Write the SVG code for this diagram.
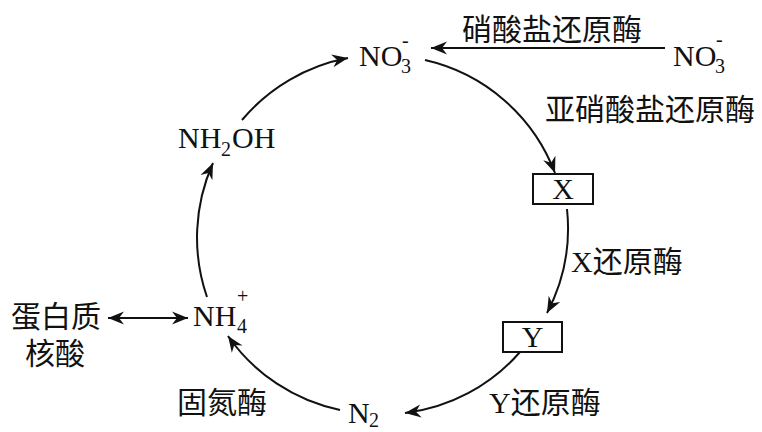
<svg xmlns="http://www.w3.org/2000/svg" width="762" height="432" viewBox="0 0 762 432">
<style>
text{font-family:"Liberation Serif","Noto Sans CJK SC",serif;font-size:30px;fill:#111}
.s{font-size:20px}
.c{stroke:#111;stroke-width:2;fill:none}
.b{fill:#fff;stroke:#111;stroke-width:2}
</style>
<defs>
<marker id="ah" viewBox="-17 -8 19 16" refX="0" refY="0" markerWidth="19" markerHeight="16" markerUnits="userSpaceOnUse" orient="auto-start-reverse">
<path d="M0,0 L-16,-6.5 L-11,0 L-16,6.5 Z" fill="#111"/>
</marker>
</defs>
<rect width="762" height="432" fill="#fff"/>
<g id="connectors">
<path class="c" d="M665,48 L431,48" marker-end="url(#ah)"/>
<path class="c" d="M425,60 A182,182 0 0 1 555,173" marker-end="url(#ah)"/>
<path class="c" d="M567,209 A182,182 0 0 1 547,313" marker-end="url(#ah)"/>
<path class="c" d="M520,352 A182,182 0 0 1 405,413" marker-end="url(#ah)"/>
<path class="c" d="M340,410 A182,182 0 0 1 228,336" marker-end="url(#ah)"/>
<path class="c" d="M207,297 A182,182 0 0 1 213,163" marker-end="url(#ah)"/>
<path class="c" d="M242,120 A182,182 0 0 1 348,58" marker-end="url(#ah)"/>
<path class="c" d="M108,318 L188,318" marker-start="url(#ah)" marker-end="url(#ah)"/>
</g>
<g id="no3-top">
<text x="359" y="66">NO</text><text class="s" x="401" y="73">3</text><text class="s" x="402" y="47">-</text>
</g>
<g id="no3-right">
<text x="673" y="66">NO</text><text class="s" x="715" y="73">3</text><text class="s" x="716" y="46">-</text>
</g>
<g id="label-nitrate">
<text x="462" y="40">硝酸盐还原酶</text>
</g>
<g id="label-nitrite">
<text x="545" y="120">亚硝酸盐还原酶</text>
</g>
<g id="node-x">
<rect class="b" x="533" y="174" width="60" height="30"/>
<text x="563" y="199" text-anchor="middle">X</text>
</g>
<g id="label-x">
<text x="571" y="272">X还原酶</text>
</g>
<g id="node-y">
<rect class="b" x="503" y="322" width="59" height="30"/>
<text x="532.5" y="347" text-anchor="middle">Y</text>
</g>
<g id="label-y">
<text x="489" y="413">Y还原酶</text>
</g>
<g id="node-n2">
<text x="348" y="423">N</text><text class="s" x="369" y="427">2</text>
</g>
<g id="label-nitrogenase">
<text x="177" y="413">固氮酶</text>
</g>
<g id="node-nh4">
<text x="193" y="326">NH</text><text class="s" x="237" y="333">4</text><text class="s" x="237" y="303">+</text>
</g>
<g id="node-protein">
<text x="11" y="327">蛋白质</text>
<text x="25" y="364">核酸</text>
</g>
<g id="node-nh2oh">
<text x="178" y="148">NH</text><text class="s" x="221" y="156">2</text><text x="232" y="148">OH</text>
</g>
</svg>
